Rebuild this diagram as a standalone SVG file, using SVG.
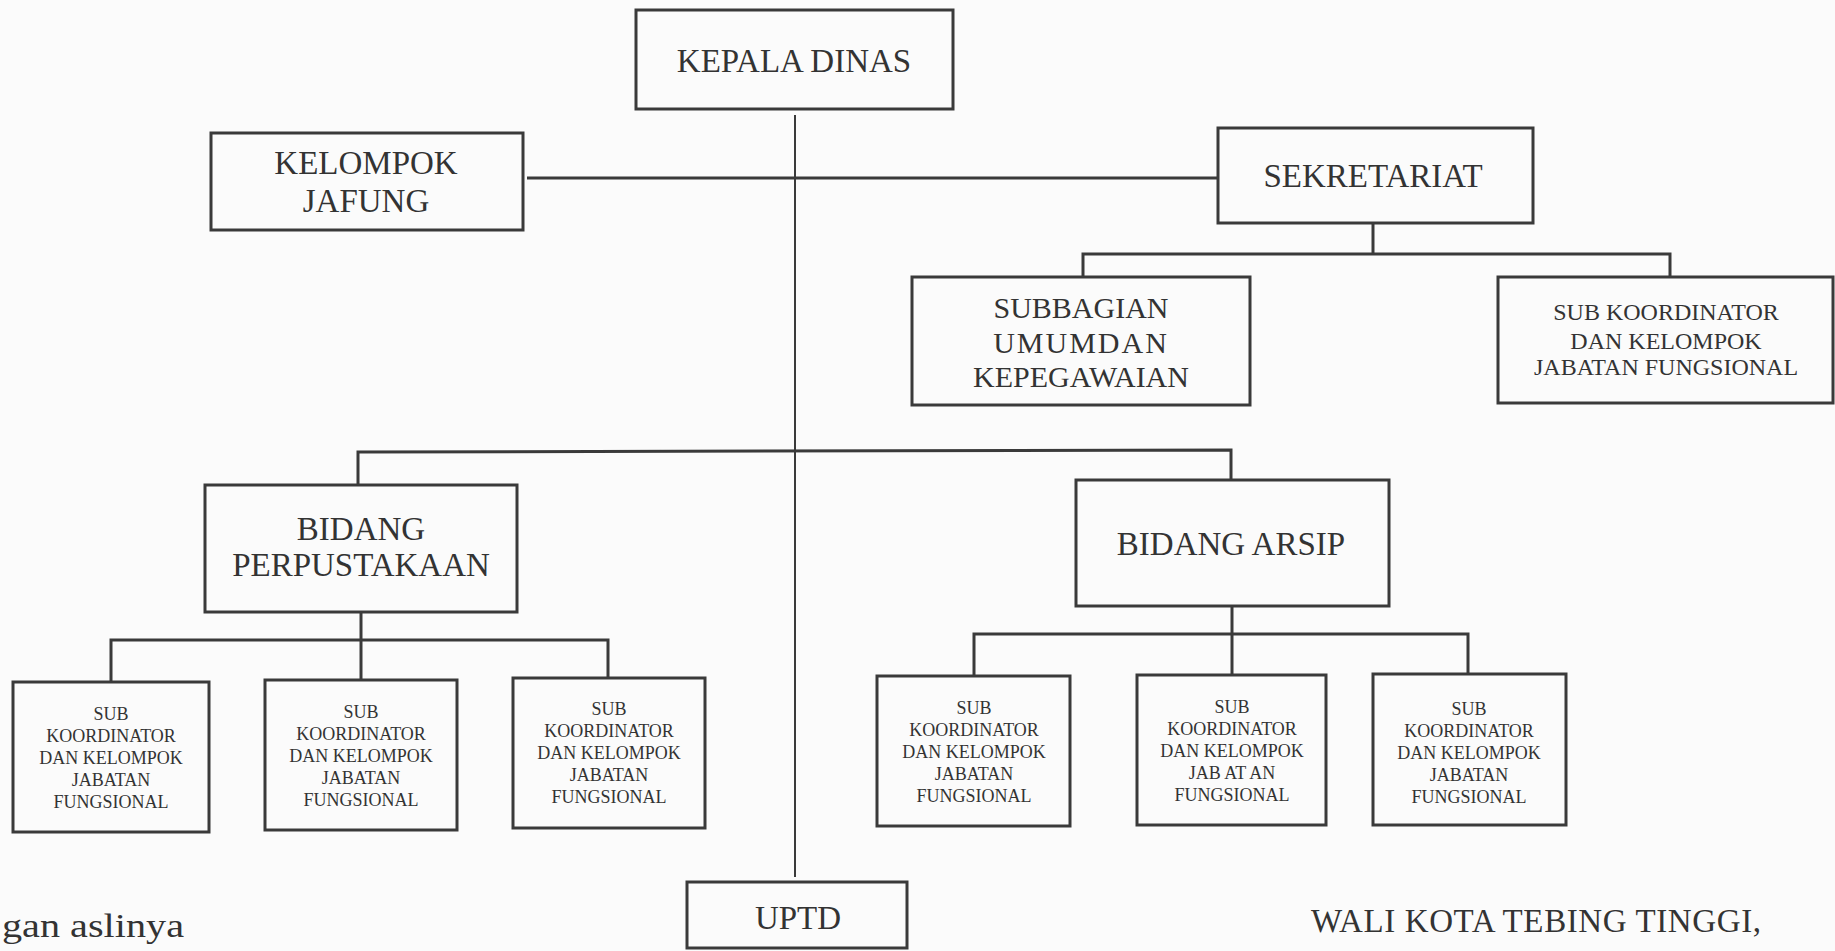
<svg xmlns="http://www.w3.org/2000/svg" width="1835" height="951" viewBox="0 0 1835 951">
  <style>
    .box { fill: none; stroke: #3a3a3a; stroke-width: 3; }
    .link { fill: none; stroke: #3a3a3a; stroke-width: 3; }
    .spine { fill: none; stroke: #3a3a3a; stroke-width: 2; }
    text { font-family: "Liberation Serif", "Times New Roman", serif; fill: #333; text-anchor: middle; }
    .big { font-size: 33px; }
    .mid { font-size: 30px; }
    .sm { font-size: 24px; }
    .xs { font-size: 18px; }
    .plain { text-anchor: start; }
  </style>
  <rect x="0" y="0" width="1835" height="951" fill="#fbfbfb"/>

  <!-- connector lines -->
  <g id="connectors">
    <line class="spine" x1="795" y1="115" x2="795" y2="877"/>
    <line class="link" x1="527" y1="178" x2="1218" y2="178"/>
    <!-- sekretariat branch -->
    <polyline class="link" points="1373,223 1373,254"/>
    <polyline class="link" points="1083,277 1083,254 1670,254 1670,277"/>
    <!-- bidang bus -->
    <polyline class="link" points="358,485 358,452 1231,450 1231,480"/>
    <!-- perpustakaan branch -->
    <polyline class="link" points="361,612 361,680"/>
    <polyline class="link" points="111,682 111,640 608,640 608,678"/>
    <!-- arsip branch -->
    <polyline class="link" points="1232,606 1232,675"/>
    <polyline class="link" points="974,676 974,634 1468,634 1468,674"/>
  </g>

  <g id="kepala-dinas">
    <rect class="box" x="636" y="10" width="317" height="99"/>
    <text class="big" x="794" y="72">KEPALA DINAS</text>
  </g>

  <g id="kelompok-jafung">
    <rect class="box" x="211" y="133" width="312" height="97"/>
    <text class="big" x="366" y="174">KELOMPOK</text>
    <text class="big" x="366" y="212">JAFUNG</text>
  </g>

  <g id="sekretariat">
    <rect class="box" x="1218" y="128" width="315" height="95"/>
    <text class="big" x="1373" y="187">SEKRETARIAT</text>
  </g>

  <g id="subbagian-umum">
    <rect class="box" x="912" y="277" width="338" height="128"/>
    <text class="mid" x="1081" y="318">SUBBAGIAN</text>
    <text class="mid" x="1081" y="353" letter-spacing="2">UMUMDAN</text>
    <text class="mid" x="1081" y="387">KEPEGAWAIAN</text>
  </g>

  <g id="sekretariat-subkoordinator">
    <rect class="box" x="1498" y="277" width="335" height="126"/>
    <text class="sm" x="1666" y="320">SUB KOORDINATOR</text>
    <text class="sm" x="1666" y="349">DAN KELOMPOK</text>
    <text class="sm" x="1666" y="375">JABATAN FUNGSIONAL</text>
  </g>

  <g id="bidang-perpustakaan">
    <rect class="box" x="205" y="485" width="312" height="127"/>
    <text class="big" x="361" y="540">BIDANG</text>
    <text class="big" x="361" y="576">PERPUSTAKAAN</text>
  </g>

  <g id="bidang-arsip">
    <rect class="box" x="1076" y="480" width="313" height="126"/>
    <text class="big" x="1231" y="555">BIDANG ARSIP</text>
  </g>

  <g id="perpustakaan-sub-1">
    <rect class="box" x="13" y="682" width="196" height="150"/>
    <text class="xs" x="111" y="720">SUB</text>
    <text class="xs" x="111" y="742">KOORDINATOR</text>
    <text class="xs" x="111" y="764">DAN KELOMPOK</text>
    <text class="xs" x="111" y="786">JABATAN</text>
    <text class="xs" x="111" y="808">FUNGSIONAL</text>
  </g>

  <g id="perpustakaan-sub-2">
    <rect class="box" x="265" y="680" width="192" height="150"/>
    <text class="xs" x="361" y="718">SUB</text>
    <text class="xs" x="361" y="740">KOORDINATOR</text>
    <text class="xs" x="361" y="762">DAN KELOMPOK</text>
    <text class="xs" x="361" y="784">JABATAN</text>
    <text class="xs" x="361" y="806">FUNGSIONAL</text>
  </g>

  <g id="perpustakaan-sub-3">
    <rect class="box" x="513" y="678" width="192" height="150"/>
    <text class="xs" x="609" y="715">SUB</text>
    <text class="xs" x="609" y="737">KOORDINATOR</text>
    <text class="xs" x="609" y="759">DAN KELOMPOK</text>
    <text class="xs" x="609" y="781">JABATAN</text>
    <text class="xs" x="609" y="803">FUNGSIONAL</text>
  </g>

  <g id="arsip-sub-1">
    <rect class="box" x="877" y="676" width="193" height="150"/>
    <text class="xs" x="974" y="714">SUB</text>
    <text class="xs" x="974" y="736">KOORDINATOR</text>
    <text class="xs" x="974" y="758">DAN KELOMPOK</text>
    <text class="xs" x="974" y="780">JABATAN</text>
    <text class="xs" x="974" y="802">FUNGSIONAL</text>
  </g>

  <g id="arsip-sub-2">
    <rect class="box" x="1137" y="675" width="189" height="150"/>
    <text class="xs" x="1232" y="713">SUB</text>
    <text class="xs" x="1232" y="735">KOORDINATOR</text>
    <text class="xs" x="1232" y="757">DAN KELOMPOK</text>
    <text class="xs" x="1232" y="779" xml:space="preserve">JAB AT AN</text>
    <text class="xs" x="1232" y="801">FUNGSIONAL</text>
  </g>

  <g id="arsip-sub-3">
    <rect class="box" x="1373" y="674" width="193" height="151"/>
    <text class="xs" x="1469" y="715">SUB</text>
    <text class="xs" x="1469" y="737">KOORDINATOR</text>
    <text class="xs" x="1469" y="759">DAN KELOMPOK</text>
    <text class="xs" x="1469" y="781">JABATAN</text>
    <text class="xs" x="1469" y="803">FUNGSIONAL</text>
  </g>

  <g id="uptd">
    <rect class="box" x="687" y="882" width="220" height="66"/>
    <text class="big" x="798" y="929">UPTD</text>
  </g>

  <!-- signature and certification lines -->
  <text class="big plain" x="1311" y="932" textLength="450">WALI KOTA TEBING TINGGI,</text>
  <text class="plain" x="2" y="937" font-size="34" textLength="182" lengthAdjust="spacingAndGlyphs">gan aslinya</text>
</svg>
